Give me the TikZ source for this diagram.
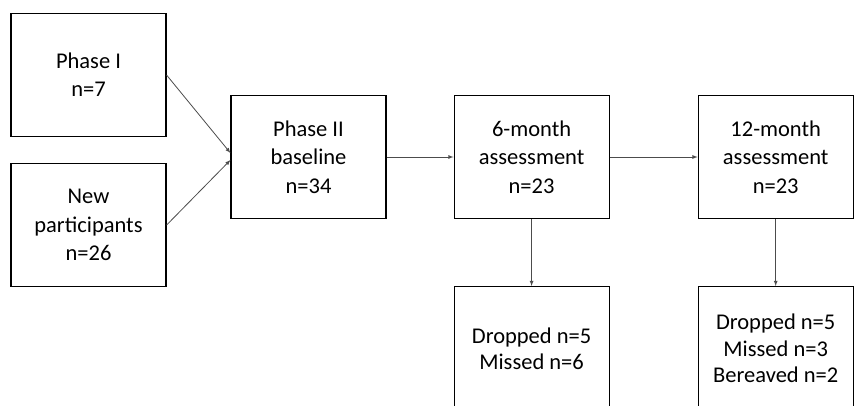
\documentclass[tikz,border=0pt]{standalone}
\usepackage{fontspec}
\setmainfont{Carlito}
\usepackage{tikz}
\usetikzlibrary{positioning}
\usetikzlibrary{arrows}

\tikzset{
  stage/.style={draw=black, line width=1.1pt, minimum width=155pt, minimum height=123pt,
    inner sep=0pt, align=center, font=\fontsize{22.5}{28.3}\selectfont},
  lost/.style={stage, font=\fontsize{22.5}{26.5}\selectfont},
  flow/.style={->, >=latex, draw=black!70, line width=0.8pt, shorten >=0pt}
}

\begin{document}
\begin{tikzpicture}[x=1pt, y=1pt]
    \useasboundingbox (0,0) rectangle (857,-405);

    \node[stage] (base) at (308.5,-157) {Phase II\\baseline\\n=34};
    \node[stage] (p1) at (88.5,-75) {Phase I\\n=7};
    \node[stage, below=26pt of p1] (newp) {New\\participants\\n=26};
    \node[stage, right=67pt of base] (m6) {6-month\\assessment\\n=23};
    \node[stage, right=88pt of m6] (m12) {12-month\\assessment\\n=23};
    \node[lost, below=67pt of m6, minimum height=124pt] (out6) {Dropped n=5\\Missed n=6};
    \node[lost, below=67pt of m12, minimum height=124pt] (out12) {Dropped n=5\\Missed n=3\\Bereaved n=2};

    % Edges
    \draw[flow] (p1.east) -- ([yshift=4pt]base.west);
    \draw[flow] (newp.east) -- ([yshift=-3pt]base.west);
    \draw[flow] (base) -- (m6);
    \draw[flow] (m6) -- (m12);
    \draw[flow] (m6) -- (out6);
    \draw[flow] (m12) -- (out12);
\end{tikzpicture}
\end{document}
